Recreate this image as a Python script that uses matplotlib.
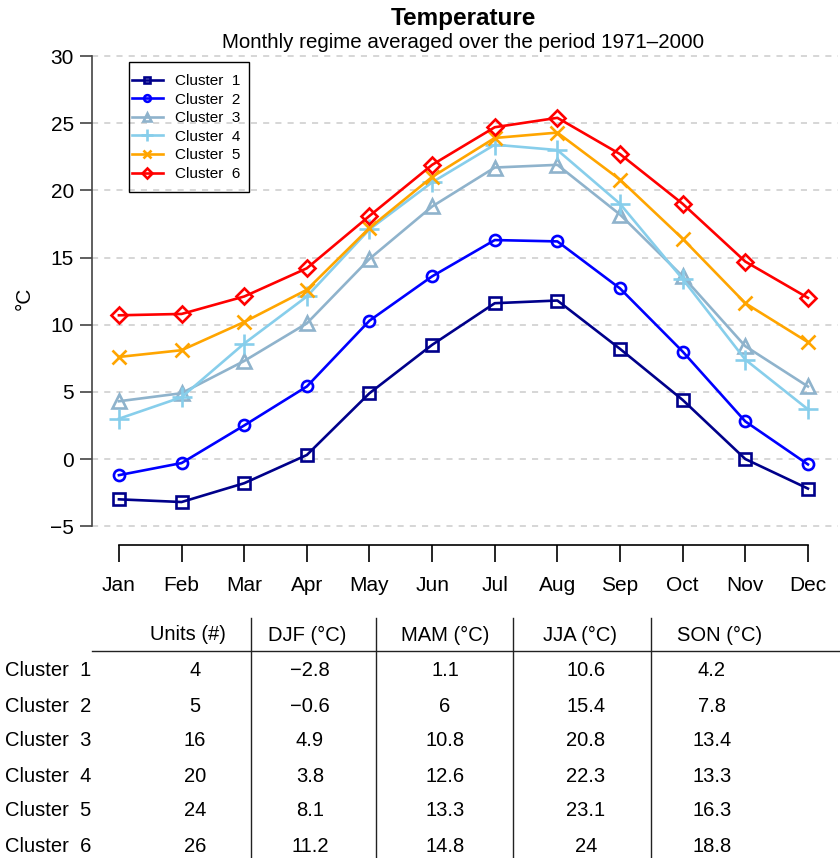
import numpy as np
import matplotlib.pyplot as plt
from matplotlib.patches import Rectangle

plt.rcParams['font.family'] = ['Liberation Sans', 'DejaVu Sans']

months = ['Jan', 'Feb', 'Mar', 'Apr', 'May', 'Jun',
          'Jul', 'Aug', 'Sep', 'Oct', 'Nov', 'Dec']
clusters = ['Cluster  1', 'Cluster  2', 'Cluster  3',
            'Cluster  4', 'Cluster  5', 'Cluster  6']

# monthly mean temperature (degC) per cluster
c1 = [-3.0, -3.2, -1.8, 0.3, 4.9, 8.5, 11.6, 11.8, 8.2, 4.4, 0.0, -2.2]
c2 = [-1.2, -0.3, 2.5, 5.4, 10.3, 13.6, 16.3, 16.2, 12.7, 8.0, 2.8, -0.4]
c3 = [4.3, 4.9, 7.3, 10.1, 14.9, 18.8, 21.7, 21.9, 18.2, 13.6, 8.4, 5.4]
c4 = [3.0, 4.6, 8.6, 12.1, 17.1, 20.6, 23.4, 23.0, 19.0, 13.4, 7.4, 3.7]
c5 = [7.6, 8.1, 10.2, 12.6, 17.2, 21.0, 23.9, 24.3, 20.8, 16.4, 11.6, 8.7]
c6 = [10.7, 10.8, 12.1, 14.2, 18.1, 21.9, 24.7, 25.4, 22.7, 19.0, 14.7, 12.0]
series = [c1, c2, c3, c4, c5, c6]

# summary table
table_header = ['Units (#)', 'DJF (°C)', 'MAM (°C)', 'JJA (°C)', 'SON (°C)']
units = ['4', '5', '16', '20', '24', '26']
djf = ['\u22122.8', '\u22120.6', '4.9', '3.8', '8.1', '11.2']
mam = ['1.1', '6', '10.8', '12.6', '13.3', '14.8']
jja = ['10.6', '15.4', '20.8', '22.3', '23.1', '24']
son = ['4.2', '7.8', '13.4', '13.3', '16.3', '18.8']

colors = ['#00008B', '#0000FF', '#8FB3CC', '#87CEEB', '#FFA500', '#FF0000']
markers = ['s', 'o', '^', '+', 'x', 'D']
msizes = [8, 8, 10, 14, 10, 8]

W, H = 840, 858
fig = plt.figure(figsize=(W / 100, H / 100), dpi=100)

# axes placed in pixel units
left, right, bottom, top = 92, 838, 545, 52
ax = fig.add_axes([left / W, 1 - bottom / H, (right - left) / W, (bottom - top) / H])

x = np.arange(len(months))
for vals, lab, col, mk, ms in zip(series, clusters, colors, markers, msizes):
    ax.plot(x, vals, color=col, lw=1.9, marker=mk, ms=ms, mfc='none',
            mec=col, mew=1.9, label=lab, clip_on=False)

ax.set_xlim(-0.43, 11.48)
ax.set_ylim(-6.4, 30.3)
ax.set_yticks(np.arange(-5, 31, 5))
ax.set_yticklabels([str(v).replace('-', '\u2212') for v in range(-5, 31, 5)])
ax.set_xticks(x)
ax.set_xticklabels(months)
for v in range(-5, 31, 5):
    ax.axhline(v, color='#CCCCCC', lw=1.1, ls=(0, (4, 4)), zorder=0)

for s in ['top', 'right']:
    ax.spines[s].set_visible(False)
ax.spines['left'].set_bounds(-5, 30)
ax.spines['bottom'].set_bounds(0, 11)
ax.spines['left'].set_color('#444444')
ax.spines['left'].set_linewidth(1.2)
ax.spines['bottom'].set_linewidth(1.2)
ax.tick_params(axis='y', length=9, width=1.2, color='#444444', labelsize=15, pad=4)
ax.tick_params(axis='x', length=12, width=1.2, labelsize=15, pad=10)
ax.set_ylabel('°C', fontsize=15, labelpad=12)

# legend without its own frame; the box is drawn separately
leg = ax.legend(loc='upper left', bbox_to_anchor=(132 / W, 1 - 74 / H),
                bbox_transform=fig.transFigure,
                fontsize=11, frameon=False, handlelength=2.0,
                handletextpad=0.8, labelspacing=0.3, borderpad=0,
                borderaxespad=0, markerscale=0.6)
fig.add_artist(Rectangle((129 / W, 1 - 192 / H), 120 / W, 130 / H,
                         transform=fig.transFigure, fill=False,
                         edgecolor='black', lw=1.0, zorder=5))

fig.text(463 / W, 1 - 18 / H, 'Temperature', ha='center', va='center',
         fontsize=17.5, fontweight='bold')
fig.text(463 / W, 1 - 43 / H, 'Monthly regime averaged over the period 1971\u20132000',
         ha='center', va='center', fontsize=14.8)

# table below the chart
head_x = [188, 307, 445, 580, 720]
val_x = [195, 310, 445, 586, 712]
row_y = [670, 706, 741, 776, 811, 846]
for hx, h in zip(head_x, table_header):
    fig.text(hx / W, 1 - 635 / H, h, ha='center', va='center', fontsize=14.5)
for i, ry in enumerate(row_y):
    fig.text(5 / W, 1 - ry / H, clusters[i], ha='left', va='center', fontsize=14.5)
    for vx, col in zip(val_x, [units, djf, mam, jja, son]):
        fig.text(vx / W, 1 - ry / H, col[i], ha='center', va='center', fontsize=14.5)

fig.add_artist(plt.Line2D([92 / W, 1.0], [1 - 651 / H] * 2, color='#222222', lw=1.0))
for vx in [251, 376, 513, 651]:
    fig.add_artist(plt.Line2D([vx / W] * 2, [1 - 618 / H, 0], color='#222222', lw=1.0))

fig.savefig('out.png', dpi=100)
